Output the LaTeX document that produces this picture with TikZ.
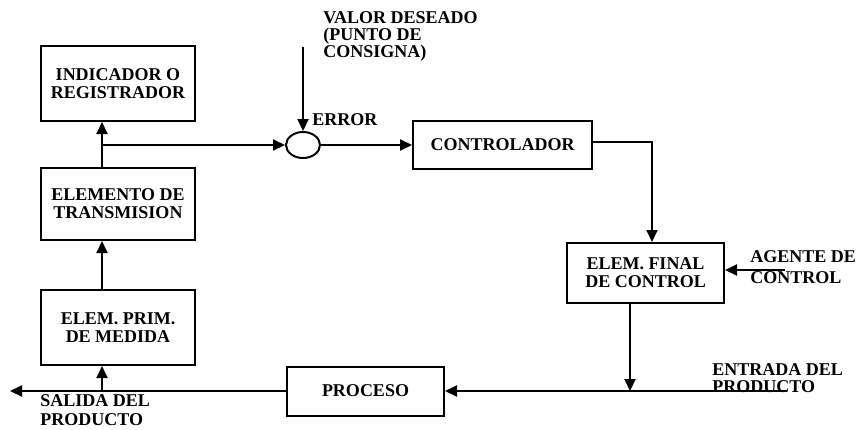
\documentclass[tikz,border=0pt]{standalone}
\usepackage{fontspec}
\setmainfont{Liberation Serif}
\usetikzlibrary{arrows.meta,positioning,calc,shapes.geometric}

\begin{document}
\begin{tikzpicture}[x=0.5pt, y=-0.5pt,
    block/.style={draw, line width=1pt, align=center, inner sep=1pt, font=\fontsize{9}{9}\selectfont\bfseries},
    sumpoint/.style={draw, ellipse, line width=1pt, inner sep=0pt, minimum width=17pt, minimum height=13pt},
    lbl/.style={align=left, inner sep=0pt, anchor=west, font=\fontsize{9}{8.5}\selectfont\bfseries},
    flow/.style={line width=1pt, -{Triangle[length=6pt,width=5.5pt]}}]
    \useasboundingbox (0,0) rectangle (860,429);

    % Measuring branch (left column)
    \node[block, minimum width=77pt, minimum height=37.5pt] (ind) at (118,83.5) {INDICADOR O\\REGISTRADOR};
    \node[block, minimum width=77pt, minimum height=36pt] (trans) at (118,204) {ELEMENTO DE\\TRANSMISION};
    \node[block, minimum width=77pt, minimum height=37.5pt] (medida) at (118,327.5) {ELEM. PRIM.\\DE MEDIDA};

    % Comparator and controller
    \node[sumpoint] (sum) at (303,145) {};
    \node[block, minimum width=89.5pt, minimum height=24pt] (ctrl) at (502.5,145) {CONTROLADOR};
    \node[block, minimum width=78.5pt, minimum height=30pt] (efc) at (645.5,273) {ELEM. FINAL\\DE CONTROL};
    \node[block, minimum width=78.5pt, minimum height=24.5pt] (proc) at (365.5,391) {PROCESO};

    % Free ends and bends
    \coordinate (tap) at (102,145);
    \coordinate (tap2) at (102,391);
    \coordinate (vd) at (303,47);
    \coordinate (turn) at (652,142);
    \coordinate (ag) at (785,270);
    \coordinate (drop) at (630,391);
    \coordinate (ent) at (787,391);
    \coordinate (sal) at (10,391);

    % Connectors
    \draw[flow] (tap2) -- (tap2 |- medida.south);
    \draw[flow] (medida.north -| tap) -- (trans.south -| tap);
    \draw[flow] (trans.north -| tap) -- (ind.south -| tap);
    \draw[flow] (tap) -- (sum.west);
    \draw[flow] (vd) -- (sum.north);
    \draw[flow] (sum.east) -- (sum.east -| ctrl.west);
    \draw[flow] (ctrl.east |- turn) -- (turn) -- (turn |- efc.north);
    \draw[flow] (ag) -- (ag -| efc.east);
    \draw[flow] (drop |- efc.south) -- (drop);
    \draw[flow] (ent) -- (ent -| proc.east);
    \draw[flow] (proc.west |- sal) -- (sal);

    % Labels
    \node[lbl] (valor) at (323,36) {VALOR DESEADO\\(PUNTO DE\\CONSIGNA)};
    \node[lbl] (error) at (312,120) {ERROR};
    \node[lbl, font=\fontsize{9}{10.5}\selectfont\bfseries] (agente) at (750,267.5) {AGENTE DE\\CONTROL};
    \node[lbl] (entrada) at (712,378.5) {ENTRADA DEL\\PRODUCTO};
    \node[lbl, font=\fontsize{9}{9.5}\selectfont\bfseries] (salida) at (40,410) {SALIDA DEL\\PRODUCTO};
\end{tikzpicture}
\end{document}
